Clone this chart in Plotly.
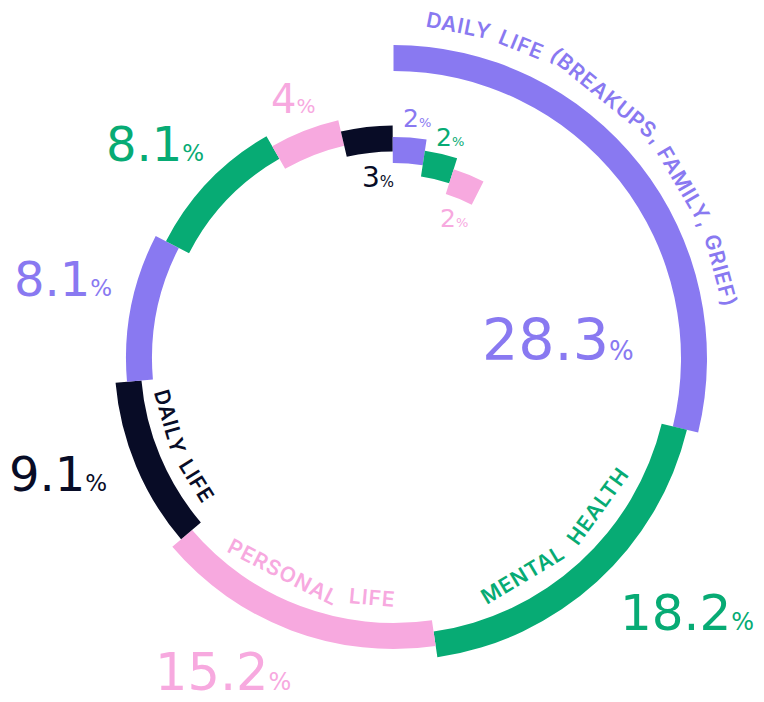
import math
import plotly.graph_objects as go

# ---------------- data ----------------
categories = [
    "Daily life (breakups, family, grief)", "Mental health", "Personal life", "Daily life",
    "Daily life (breakups, family, grief)", "Mental health", "Personal life", "Daily life",
    "Daily life (breakups, family, grief)", "Mental health", "Personal life",
]
values = [28.3, 18.2, 15.2, 9.1, 8.1, 8.1, 4, 3, 2, 2, 2]
arc_labels = ["DAILY LIFE (BREAKUPS, FAMILY, GRIEF)", "MENTAL HEALTH", "PERSONAL LIFE", "DAILY LIFE"]

# ---------------- style / layout ----------------
PURPLE, GREEN, PINK, DARK = "#8979F1", "#07AB74", "#F7A9DF", "#080C26"
cat_colors = {
    "Daily life (breakups, family, grief)": PURPLE,
    "Mental health": GREEN,
    "Personal life": PINK,
    "Daily life": DARK,
}
FONT = "DejaVu Sans"
LABEL_FONT = "Inter"
PAGE_OFF = 8                # default body margin of the html page
W, H = 764 - PAGE_OFF, 702 - PAGE_OFF
CX, CY = 393.5 - PAGE_OFF, 358.5 - PAGE_OFF   # centre of the spiral (px in figure)
S = 340                     # half size of the square plotting domain (px)
R_OUT0, STEP, THICK = 313.5, 11.5, 26
K_ANG = 63.5                # angular scale (deg * sqrt(px) per percent)

# number label placement (offset from centre in px, y up) and sizes
num_dx = [164.5, 293, -170.5, -336, -330.5, -238.5, -100.5, -15.5, 23.5, 56.5, 60.5]
num_dy = [18.5, -254, -313.5, -115, 80, 214.5, 259.5, 181.5, 239.5, 221.5, 140.5]
num_size = [57, 50, 51, 48, 48, 48, 40, 28, 25, 25, 25]
pct_size = [26, 24, 24, 23, 23, 23, 20, 15, 13, 13, 13]

# curved label placement
arc_side = ["out", "in", "in", "in"]
arc_offset = [-8.5, 0, 0, 0]
arc_gap = [25.5, 24.5, 24.5, 21]
ARC_FS = 21
ARC_LS = 1.0
W_SCALE = 1.05

# ---------------- geometry via polar scale ----------------
colors = [cat_colors[c] for c in categories]
bases, thetas, widths, mids = [], [], [], []
t = 0.0
for i, v in enumerate(values):
    r_out = R_OUT0 - STEP * i
    r_mid = r_out - THICK / 2
    span = K_ANG * v / math.sqrt(r_mid)
    bases.append(r_out - THICK)
    thetas.append(t + span / 2)
    widths.append(span)
    mids.append(t + span / 2)
    t += span

fig = go.Figure()
fig.add_trace(go.Barpolar(
    r=[THICK] * len(values), base=bases, theta=thetas, width=widths,
    marker=dict(color=colors, line=dict(width=0)),
    hoverinfo="skip", showlegend=False,
))
# invisible trace to activate overlay cartesian axes for text
fig.add_trace(go.Scatter(x=[0], y=[0], mode="markers", marker=dict(opacity=0),
                         hoverinfo="skip", showlegend=False))

annotations = []

# number labels
for i, v in enumerate(values):
    annotations.append(dict(
        x=num_dx[i], y=num_dy[i], xref="x", yref="y", showarrow=False,
        xanchor="center", yanchor="middle",
        text=f"{v:g}<span style='font-size:{pct_size[i]}px'>%</span>",
        font=dict(family=FONT, size=num_size[i], color=colors[i]),
    ))

# curved labels, word by word (approximate advance widths, em)
CHAR_W = {'A': .686, 'B': .651, 'C': .722, 'D': .713, 'E': .589, 'F': .566, 'G': .736,
          'H': .738, 'I': .264, 'K': .655, 'L': .540, 'M': .876, 'N': .741, 'O': .765,
          'P': .626, 'R': .647, 'S': .628, 'T': .621, 'U': .728, 'Y': .658, ' ': .30,
          ',': .23, '(': .33, ')': .33}


def wlen(s):
    return sum(CHAR_W.get(c, .65) * ARC_FS * W_SCALE + ARC_LS for c in s)


for j, txt in enumerate(arc_labels):
    i = j
    r_out = R_OUT0 - STEP * i
    if arc_side[j] == "out":
        r = r_out + arc_gap[j]
        sign = 1
    else:
        r = r_out - THICK - arc_gap[j]
        sign = -1
    centre = mids[i] + arc_offset[j]
    total = wlen(txt)
    pos = 0.0
    for w in txt.split(" "):
        wl = wlen(w)
        s_mid = pos + wl / 2
        ang = centre + sign * math.degrees((s_mid - total / 2) / r)
        a = math.radians(ang)
        annotations.append(dict(
            x=r * math.sin(a), y=r * math.cos(a), xref="x", yref="y", showarrow=False,
            xanchor="center", yanchor="middle",
            text=f"<span style='letter-spacing:{ARC_LS}px'>{w}</span>",
            textangle=ang if sign == 1 else ang - 180,
            font=dict(family=LABEL_FONT, size=ARC_FS, color=colors[i], weight=600),
        ))
        pos += wl + wlen(" ")

xd = [(CX - S) / W, (CX + S) / W]
yd = [(H - CY - S) / H, (H - CY + S) / H]
fig.update_layout(
    width=W, height=H, margin=dict(l=0, r=0, t=0, b=0),
    paper_bgcolor="white", plot_bgcolor="rgba(0,0,0,0)",
    polar=dict(
        domain=dict(x=xd, y=yd), bgcolor="rgba(0,0,0,0)", hole=0,
        radialaxis=dict(range=[0, S], visible=False),
        angularaxis=dict(visible=False, rotation=90, direction="clockwise"),
    ),
    xaxis=dict(domain=xd, range=[-S, S], visible=False, fixedrange=True),
    yaxis=dict(domain=yd, range=[-S, S], visible=False, fixedrange=True),
    annotations=annotations,
    showlegend=False,
)
fig.write_html("out.html")
